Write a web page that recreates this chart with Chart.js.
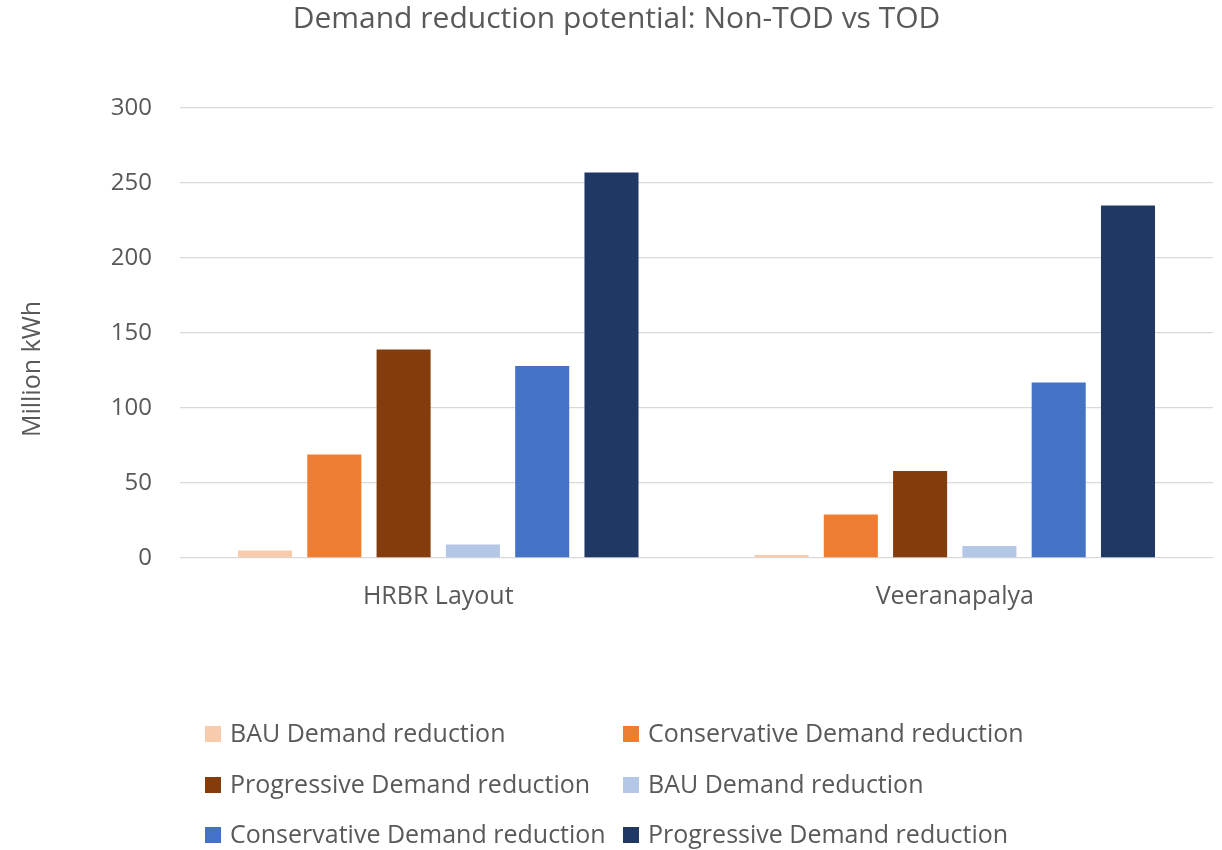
<!DOCTYPE html>
<html>
<head>
<meta charset="utf-8">
<script src="https://cdn.jsdelivr.net/npm/chart.js@4.4.1/dist/chart.umd.min.js"></script>
<style>
  html, body { margin: 0; padding: 0; background: #ffffff; }
  #wrap { width: 1222px; height: 850px; position: relative; }
</style>
</head>
<body>
<div id="wrap"><canvas id="chart" width="1222" height="850"></canvas></div>
<script>
// Locations compared
const categories = ['HRBR Layout', 'Veeranapalya'];

// Demand reduction per scenario (Million kWh)
const nonTodBau          = [5, 2];
const nonTodConservative = [69, 29];
const nonTodProgressive  = [139, 58];
const todBau             = [9, 8];
const todConservative    = [128, 117];
const todProgressive     = [257, 235];

const seriesNames = [
  'BAU Demand reduction',
  'Conservative Demand reduction',
  'Progressive Demand reduction',
  'BAU Demand reduction',
  'Conservative Demand reduction',
  'Progressive Demand reduction'
];
const seriesColors = ['#F8CBAD', '#ED7D31', '#843C0C', '#B4C7E7', '#4472C4', '#203864'];
const seriesValues = [nonTodBau, nonTodConservative, nonTodProgressive, todBau, todConservative, todProgressive];

const yTicks = [0, 50, 100, 150, 200, 250, 300];
const yAxisTitle = 'Million kWh';

const FONT = '"Open Sans", sans-serif';
const TEXT = '#595959';

// Two-column legend drawn under the plot, plus the rotated value-axis title
const extras = {
  id: 'extras',
  afterDraw(chart) {
    const ctx = chart.ctx;
    const cols = [205, 623];
    const rows = [734, 785, 835];
    ctx.save();
    ctx.font = '25px ' + FONT;
    ctx.textBaseline = 'middle';
    ctx.textAlign = 'left';
    chart.data.datasets.forEach((ds, i) => {
      const x = cols[i % 2];
      const y = rows[Math.floor(i / 2)];
      ctx.fillStyle = ds.backgroundColor;
      ctx.fillRect(x, y - 8, 16, 16);
      ctx.fillStyle = TEXT;
      ctx.fillText(ds.label, x + 25, y + 1);
    });
    ctx.restore();

    ctx.save();
    ctx.translate(33, 369);
    ctx.rotate(-Math.PI / 2);
    ctx.font = '25px ' + FONT;
    ctx.fillStyle = TEXT;
    ctx.textAlign = 'center';
    ctx.textBaseline = 'middle';
    ctx.fillText(yAxisTitle, 0, 0);
    ctx.restore();
  }
};

new Chart(document.getElementById('chart'), {
  type: 'bar',
  data: {
    labels: categories,
    datasets: seriesValues.map((vals, i) => ({
      label: seriesNames[i],
      data: vals,
      backgroundColor: seriesColors[i],
      borderWidth: 0,
      barPercentage: 0.78,
      categoryPercentage: 0.805
    }))
  },
  options: {
    responsive: false,
    animation: false,
    layout: { padding: { left: 20, right: 9, top: 0, bottom: 232 } },
    plugins: {
      legend: { display: false },
      tooltip: { enabled: false },
      title: {
        display: true,
        text: 'Demand reduction potential: Non-TOD vs TOD',
        color: TEXT,
        font: { family: FONT, size: 30, weight: 'normal' },
        padding: { top: 1, bottom: 71 }
      }
    },
    scales: {
      x: {
        grid: { display: false, drawTicks: false },
        border: { display: false },
        ticks: { color: TEXT, font: { family: FONT, size: 25 }, padding: 24 },
        afterFit(scale) { scale.height = 60; }
      },
      y: {
        min: 0,
        max: 300,
        afterBuildTicks(scale) { scale.ticks = yTicks.map(v => ({ value: v })); },
        grid: { color: '#D9D9D9', lineWidth: 1.3, drawTicks: false },
        border: { display: false },
        ticks: { color: TEXT, font: { family: FONT, size: 24 }, padding: 28 },
        afterFit(scale) { scale.width = 160; }
      }
    }
  },
  plugins: [extras]
});
</script>
</body>
</html>
